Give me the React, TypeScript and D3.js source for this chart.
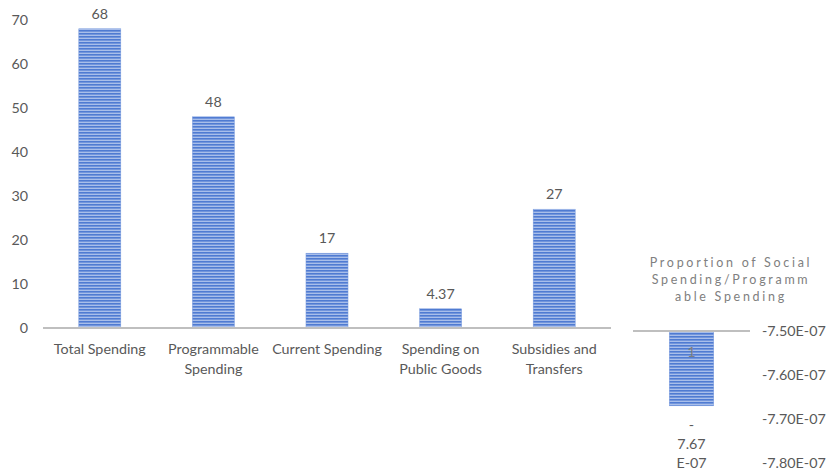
import React from "react";
import * as d3 from "d3";

const categories = [
  ["Total Spending"],
  ["Programmable", "Spending"],
  ["Current Spending"],
  ["Spending on", "Public Goods"],
  ["Subsidies and", "Transfers"],
];
const values = [68, 48, 17, 4.37, 27];
const valueLabels = ["68", "48", "17", "4.37", "27"];
const leftTicks = [0, 10, 20, 30, 40, 50, 60, 70];

const rightTitle = ["Proportion of Social", "Spending/Programm", "able Spending"];
const rightValue = -7.67e-7;
const rightInnerLabel = "1";
const rightValueLabel = ["-", "7.67", "E-07"];
const rightTicks = [-7.5e-7, -7.6e-7, -7.7e-7, -7.8e-7];
const rightTickLabels = ["-7.50E-07", "-7.60E-07", "-7.70E-07", "-7.80E-07"];

const FONT = "Lato, 'Open Sans', sans-serif";
const TXT = "#595959";
const FS = 14.3;

export default function App() {
  const W = 827, H = 474;
  const y = d3.scaleLinear().domain([0, 70]).range([328, 20]);
  const x = d3
    .scaleBand<number>()
    .domain(values.map((_, i) => i))
    .range([43, 611])
    .paddingInner(0.63)
    .paddingOuter(0.315);

  const yr = d3.scaleLinear().domain([-7.5e-7, -7.8e-7]).range([331, 463]);
  const xr = d3.scaleBand<number>().domain([0]).range([633, 750]).paddingInner(0.62).paddingOuter(0.31);

  return (
    <svg
      width={W}
      height={H}
      style={{ position: "absolute", left: 0, top: 0, background: "#fff" }}
      fontFamily={FONT}
    >
      <defs>
        <pattern id="stripes" width="6" height="3" patternUnits="userSpaceOnUse">
          <rect width="6" height="3" fill="#A8BEEA" />
          <rect width="6" height="1.6" fill="#4F7BD2" />
        </pattern>
      </defs>

      {leftTicks.map((t) => (
        <text key={t} x={28} y={y(t)} dy="0.35em" textAnchor="end" fontSize={FS} fill={TXT}>
          {t}
        </text>
      ))}

      {values.map((v, i) => (
        <g key={i}>
          <rect
            x={x(i)}
            y={y(v)}
            width={x.bandwidth()}
            height={y(0) - y(v)}
            fill="url(#stripes)"
            stroke="#7A9CDE"
            strokeWidth={0.5}
          />
          <text
            x={(x(i) as number) + x.bandwidth() / 2}
            y={y(v) - 10}
            textAnchor="middle"
            fontSize={FS}
            fill={TXT}
          >
            {valueLabels[i]}
          </text>
          {categories[i].map((line, j) => (
            <text
              key={j}
              x={(x(i) as number) + x.bandwidth() / 2}
              y={y(0) + 21 + j * 20}
              dy="0.35em"
              textAnchor="middle"
              fontSize={FS}
              fill={TXT}
            >
              {line}
            </text>
          ))}
        </g>
      ))}
      <line x1={43} x2={611} y1={y(0)} y2={y(0)} stroke="#BFBFBF" strokeWidth={2} />

      {rightTitle.map((line, j) => (
        <text
          key={j}
          x={731}
          y={263 + j * 17}
          dy="0.35em"
          textAnchor="middle"
          fontSize={12.5}
          letterSpacing={2.7}
          fill="#808080"
        >
          {line}
        </text>
      ))}
      {rightTicks.map((t, i) => (
        <text key={i} x={762} y={yr(t)} dy="0.35em" textAnchor="start" fontSize={FS} fill={TXT}>
          {rightTickLabels[i]}
        </text>
      ))}
      <rect
        x={xr(0)}
        y={yr(-7.5e-7)}
        width={xr.bandwidth()}
        height={yr(rightValue) - yr(-7.5e-7)}
        fill="url(#stripes)"
        stroke="#7A9CDE"
        strokeWidth={0.5}
      />
      <line x1={633} x2={750} y1={yr(-7.5e-7)} y2={yr(-7.5e-7)} stroke="#BFBFBF" strokeWidth={2} />
      <text
        x={(xr(0) as number) + xr.bandwidth() / 2}
        y={352}
        dy="0.35em"
        textAnchor="middle"
        fontSize={FS}
        fill="#7F7F7F"
      >
        {rightInnerLabel}
      </text>
      {rightValueLabel.map((line, j) => (
        <text
          key={j}
          x={(xr(0) as number) + xr.bandwidth() / 2}
          y={yr(rightValue) + 19 + j * 19}
          dy="0.35em"
          textAnchor="middle"
          fontSize={FS}
          fill={TXT}
        >
          {line}
        </text>
      ))}
    </svg>
  );
}
